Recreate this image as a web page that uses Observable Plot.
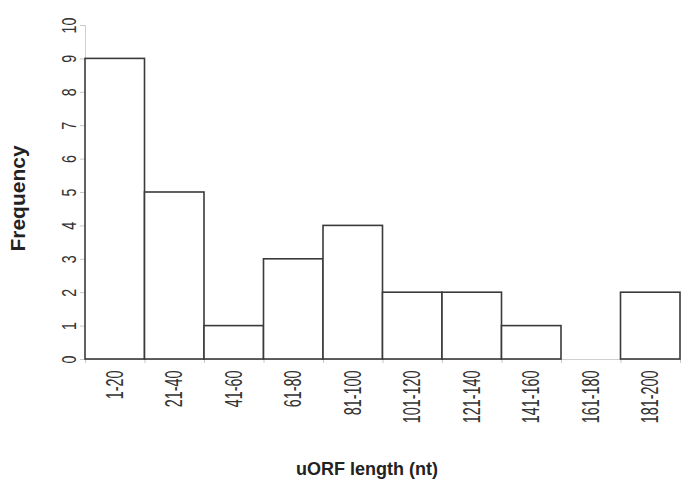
<!DOCTYPE html>
<html>
<head>
<meta charset="utf-8">
<script src="https://cdn.jsdelivr.net/npm/d3@7"></script>
<script src="https://cdn.jsdelivr.net/npm/@observablehq/plot@0.6"></script>
<style>
  html, body { margin: 0; padding: 0; background: #fff; }
  #chart svg { font-family: "Liberation Sans", Arial, sans-serif; }
</style>
</head>
<body>
<div id="chart"></div>
<script>
const binLabels = ["1-20","21-40","41-60","61-80","81-100","101-120","121-140","141-160","161-180","181-200"];
const binStart = [0,20,40,60,80,100,120,140,160,180];
const binEnd = [20,40,60,80,100,120,140,160,180,200];
const frequency = [9,5,1,3,4,2,2,1,0,2];
const yTicks = [0,1,2,3,4,5,6,7,8,9,10];
const xTitle = "uORF length (nt)";
const yTitle = "Frequency";

const data = binLabels.map((label, i) => ({label, x1: binStart[i], x2: binEnd[i], mid: (binStart[i] + binEnd[i]) / 2, value: frequency[i]}));
const labelByMid = new Map(data.map(d => [d.mid, d.label]));

const chart = Plot.plot({
  width: 685,
  height: 496,
  marginTop: 25,
  marginBottom: 137,
  marginLeft: 85,
  marginRight: 5,
  style: {fontFamily: "Liberation Sans, Arial, sans-serif", fontSize: "15px", color: "#333", background: "#fff"},
  x: {type: "linear", domain: [0, 200]},
  y: {domain: [0, 10]},
  marks: [
    Plot.frame({anchor: "left", stroke: "#d0d0d0"}),
    Plot.ruleY([0], {stroke: "#d0d0d0"}),
    Plot.axisY({ticks: yTicks, tickSize: 5, tickPadding: 5, tickRotate: -90, fontSize: 21, stroke: "#c8c8c8", fill: "#333", label: null}),
    Plot.axisX({ticks: binEnd.concat([0]), tickSize: 4, tickFormat: () => "", stroke: "#c8c8c8", label: null}),
    Plot.axisX({ticks: data.map(d => d.mid), tickSize: 0, tickPadding: 11, tickRotate: -90, fontSize: 24, tickFormat: v => labelByMid.get(v), fill: "#333", label: null}),
    Plot.rectY(data, {filter: d => d.value > 0, x1: "x1", x2: "x2", y: "value", fill: "white", stroke: "#3a3a3a", strokeWidth: 1.6}),
    Plot.text([xTitle], {frameAnchor: "bottom", dy: 115, dx: -16, fontSize: 18, fontWeight: "bold", fill: "#222"}),
    Plot.text([yTitle], {frameAnchor: "left", textAnchor: "middle", dx: -67, dy: 6, rotate: -90, fontSize: 21, fontWeight: "bold", fill: "#222"})
  ]
});
document.getElementById("chart").appendChild(chart);
// the reference's rotated tick labels are drawn narrow (condensed along the reading direction)
chart.querySelectorAll("text").forEach(t => {
  const txt = t.textContent;
  let factor = null, size = null;
  if (/^\d+$/.test(txt)) { factor = 0.68; size = "21px"; }
  else if (binLabels.includes(txt)) { factor = 0.6; size = "24px"; }
  if (factor) {
    t.style.setProperty("font-size", size, "important");
    const len = t.getComputedTextLength();
    t.setAttribute("lengthAdjust", "spacingAndGlyphs");
    t.setAttribute("textLength", (len * factor).toFixed(2));
  }
});
</script>
</body>
</html>
